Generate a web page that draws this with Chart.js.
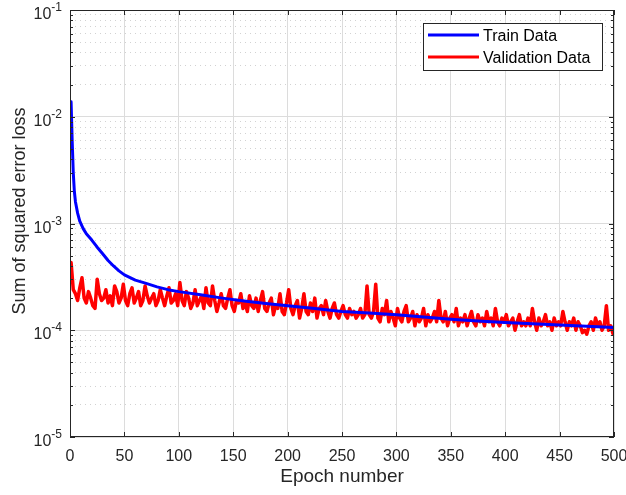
<!DOCTYPE html>
<html>
<head>
<meta charset="utf-8">
<script src="https://cdn.jsdelivr.net/npm/chart.js@4"></script>
<style>
  html, body { margin: 0; padding: 0; background: #fff; }
  #wrap { width: 626px; height: 495px; }
</style>
</head>
<body>
<div id="wrap"><canvas id="lossChart" width="626" height="495"></canvas></div>
<script>
// training loss (epoch, loss)
const trainEpochs = [1, 2, 3, 4, 5, 7, 9, 12, 15, 20, 25, 30, 35, 40, 45, 50, 60, 70, 80, 90, 100,
	120, 140, 160, 180, 200, 225, 250, 275, 300, 325, 350, 375, 400, 425, 450, 475, 500];
const trainLoss = [1.38e-2, 6.0e-3, 3.0e-3, 2.0e-3, 1.6e-3, 1.25e-3, 1.05e-3, 9.0e-4, 8.0e-4, 7.0e-4,
	6.0e-4, 5.2e-4, 4.5e-4, 4.0e-4, 3.6e-4, 3.3e-4, 2.95e-4, 2.75e-4, 2.55e-4, 2.4e-4, 2.3e-4,
	2.15e-4, 2.0e-4, 1.88e-4, 1.78e-4, 1.7e-4, 1.6e-4, 1.5e-4, 1.45e-4, 1.4e-4, 1.33e-4, 1.27e-4,
	1.22e-4, 1.18e-4, 1.15e-4, 1.12e-4, 1.09e-4, 1.06e-4];

// validation loss every 2 epochs starting at epoch 1, in units of 1e-4
const valStep = 2;
const valLossE4 = [
	4.3, 2.4, 2.2, 1.9, 2.5, 3.1, 2.0, 1.8, 2.3, 2.0,
	1.7, 1.6, 3.0, 2.2, 1.9, 2.0, 2.4, 1.8, 2.1, 1.7,
	2.6, 2.3, 1.8, 2.0, 2.7, 1.9, 1.7, 2.2, 2.5, 1.8,
	2.0, 2.3, 1.7, 1.9, 2.6, 2.1, 1.8, 2.0, 2.2, 1.7,
	1.9, 2.4, 2.0, 1.7, 2.1, 2.5, 1.8, 1.9, 2.2, 1.7,
	2.8, 1.9, 1.7, 2.3, 2.0, 1.6, 1.8, 2.4, 1.7, 1.9,
	2.1, 1.6, 2.5, 1.8, 1.7, 2.6, 1.9, 1.5, 1.8, 2.2,
	1.7, 1.6, 2.0, 2.4, 1.7, 1.5, 1.9, 1.8, 2.2, 1.6,
	1.8, 1.5, 2.1, 1.7, 1.6, 2.0, 1.5, 1.9, 2.3, 1.6,
	1.5, 1.8, 2.0, 1.4, 1.7, 1.6, 2.2, 1.5, 1.4, 1.8,
	2.4, 1.6, 1.4, 1.7, 1.9, 1.3, 1.6, 2.2, 1.5, 1.4,
	1.8, 1.5, 2.0, 1.3, 1.6, 1.7, 1.4, 1.9, 1.5, 1.3,
	1.6, 1.8, 1.4, 1.3, 1.5, 1.7, 1.4, 1.3, 1.6, 1.4,
	1.5, 1.3, 1.4, 1.6, 1.3, 1.4, 2.6, 1.4, 1.3, 1.5,
	2.7, 1.3, 1.2, 1.6, 1.4, 1.9, 1.2, 1.5, 1.3, 1.1,
	1.6, 1.3, 1.2, 1.5, 1.7, 1.2, 1.3, 1.5, 1.1, 1.4,
	1.2, 1.3, 1.6, 1.1, 1.4, 1.2, 1.3, 1.5, 1.2, 1.9,
	1.3, 1.2, 1.5, 1.1, 1.3, 1.4, 1.2, 1.6, 1.1, 1.3,
	1.2, 1.4, 1.1, 1.3, 1.5, 1.2, 1.1, 1.4, 1.2, 1.3,
	1.1, 1.5, 1.2, 1.3, 1.1, 1.6, 1.2, 1.1, 1.3, 1.2,
	1.4, 1.1, 1.2, 1.3, 1.0, 1.2, 1.4, 1.1, 1.2, 1.1,
	1.3, 1.1, 1.6, 1.2, 1.0, 1.3, 1.1, 1.2, 1.4, 1.1,
	1.2, 1.0, 1.3, 1.1, 1.2, 1.1, 1.5, 1.2, 1.0, 1.2,
	1.1, 1.3, 1.0, 1.2, 1.1, 0.95, 1.0, 0.92, 1.1, 1.2,
	1.0, 1.3, 1.1, 1.2, 1.0, 1.1, 1.7, 1.0, 1.1, 0.93
];

const xTicks = [0, 50, 100, 150, 200, 250, 300, 350, 400, 450, 500];
const yExponents = [-5, -4, -3, -2, -1];
const seriesNames = ["Train Data", "Validation Data"];
const seriesColors = ["#0000ff", "#ff0000"];

const trainPoints = trainEpochs.map((e, i) => ({ x: e, y: trainLoss[i] }));
const valPoints = valLossE4.map((v, i) => ({ x: 1 + i * valStep, y: v * 1e-4 }));

// major decades plus 2..9 minors
const yGridValues = [];
yExponents.forEach((p) => {
	yGridValues.push(Math.pow(10, p));
	if (p < -1) for (let m = 2; m <= 9; m++) yGridValues.push(m * Math.pow(10, p));
});

const isMajor = (v) => Math.abs(Math.log10(v) - Math.round(Math.log10(v))) < 1e-6;

const INK = "#262626";
const FONT = "Liberation Sans, Arial, Helvetica, sans-serif";

const matlabAxes = {
	id: "matlabAxes",
	afterDraw(chart) {
		const ctx = chart.ctx;
		const a = chart.chartArea;
		const xs = chart.scales.x;
		const ys = chart.scales.y;
		ctx.save();

		// box
		ctx.strokeStyle = INK;
		ctx.lineWidth = 1;
		ctx.strokeRect(a.left + 0.5, a.top + 0.5, a.right - a.left - 1, a.bottom - a.top - 1);

		// x ticks (inward, bottom and top) + labels
		ctx.fillStyle = INK;
		ctx.font = "16px " + FONT;
		ctx.textAlign = "center";
		ctx.textBaseline = "alphabetic";
		xTicks.forEach((t) => {
			const px = Math.round(xs.getPixelForValue(t)) + 0.5;
			ctx.beginPath();
			ctx.moveTo(px, a.bottom);
			ctx.lineTo(px, a.bottom - 5);
			ctx.moveTo(px, a.top);
			ctx.lineTo(px, a.top + 5);
			ctx.stroke();
			ctx.fillText(String(t), xs.getPixelForValue(t), a.bottom + 24);
		});

		// y ticks (inward, left and right)
		yGridValues.forEach((v) => {
			const py = Math.round(ys.getPixelForValue(v)) + 0.5;
			const len = isMajor(v) ? 5 : 3;
			ctx.beginPath();
			ctx.moveTo(a.left, py);
			ctx.lineTo(a.left + len, py);
			ctx.moveTo(a.right, py);
			ctx.lineTo(a.right - len, py);
			ctx.stroke();
		});

		// y labels 10^p
		ctx.textAlign = "left";
		yExponents.forEach((p) => {
			const py = ys.getPixelForValue(Math.pow(10, p));
			const sup = String(p);
			ctx.font = "12px " + FONT;
			const wSup = ctx.measureText(sup).width;
			ctx.font = "16px " + FONT;
			const wBase = ctx.measureText("10").width;
			const right = a.left - 8;
			ctx.fillText("10", right - wSup - wBase, py + 9);
			ctx.font = "12px " + FONT;
			ctx.fillText(sup, right - wSup, py + 1);
		});

		// axis titles
		ctx.font = "19px " + FONT;
		ctx.textAlign = "center";
		ctx.fillText("Epoch number", (a.left + a.right) / 2, 482);
		ctx.save();
		ctx.translate(25, 211);
		ctx.rotate(-Math.PI / 2);
		ctx.font = "18px " + FONT;
		ctx.fillText("Sum of squared error loss", 0, 0);
		ctx.restore();

		// legend box
		const lx = 423, ly = 23, lw = 179, lh = 47;
		ctx.fillStyle = "#fff";
		ctx.fillRect(lx, ly, lw, lh);
		ctx.strokeStyle = INK;
		ctx.strokeRect(lx + 0.5, ly + 0.5, lw, lh);
		ctx.font = "16px " + FONT;
		ctx.textAlign = "left";
		chart.data.datasets.forEach((ds, i) => {
			const yy = 35 + i * 22;
			ctx.strokeStyle = ds.borderColor;
			ctx.lineWidth = 3;
			ctx.beginPath();
			ctx.moveTo(428, yy);
			ctx.lineTo(479, yy);
			ctx.stroke();
			ctx.fillStyle = "#000";
			ctx.fillText(ds.label, 483, yy + 6);
		});
		ctx.restore();
	},
};

new Chart(document.getElementById("lossChart"), {
	type: "line",
	data: {
		datasets: [
			{
				label: seriesNames[0],
				data: trainPoints,
				borderColor: seriesColors[0],
				borderWidth: 3,
				borderJoinStyle: "round",
				borderCapStyle: "round",
				pointRadius: 0,
				tension: 0,
				fill: false,
			},
			{
				label: seriesNames[1],
				data: valPoints,
				borderColor: seriesColors[1],
				borderWidth: 3.5,
				borderJoinStyle: "round",
				borderCapStyle: "round",
				pointRadius: 0,
				tension: 0,
				fill: false,
			},
		],
	},
	options: {
		responsive: false,
		animation: false,
		events: [],
		layout: { padding: { left: 70, right: 12, top: 10, bottom: 58 } },
		plugins: {
			legend: { display: false },
			tooltip: { enabled: false },
		},
		scales: {
			x: {
				type: "linear",
				min: 0,
				max: 500,
				afterBuildTicks: (s) => { s.ticks = xTicks.map((v) => ({ value: v })); },
				ticks: { display: false },
				grid: { color: "#dcdcdc", lineWidth: 1, drawTicks: false },
				border: { display: false },
			},
			y: {
				type: "logarithmic",
				min: 1e-5,
				max: 1e-1,
				afterBuildTicks: (s) => { s.ticks = yGridValues.map((v) => ({ value: v })); },
				ticks: { display: false },
				grid: {
					drawTicks: false,
					lineWidth: 1,
					color: (c) => (c.tick && isMajor(c.tick.value) ? "#dcdcdc" : "#d2d2d2"),
				},
				border: {
					display: false,
					dash: (c) => (c.tick && isMajor(c.tick.value) ? [] : [1, 4]),
				},
			},
		},
	},
	plugins: [matlabAxes],
});
</script>
</body>
</html>
